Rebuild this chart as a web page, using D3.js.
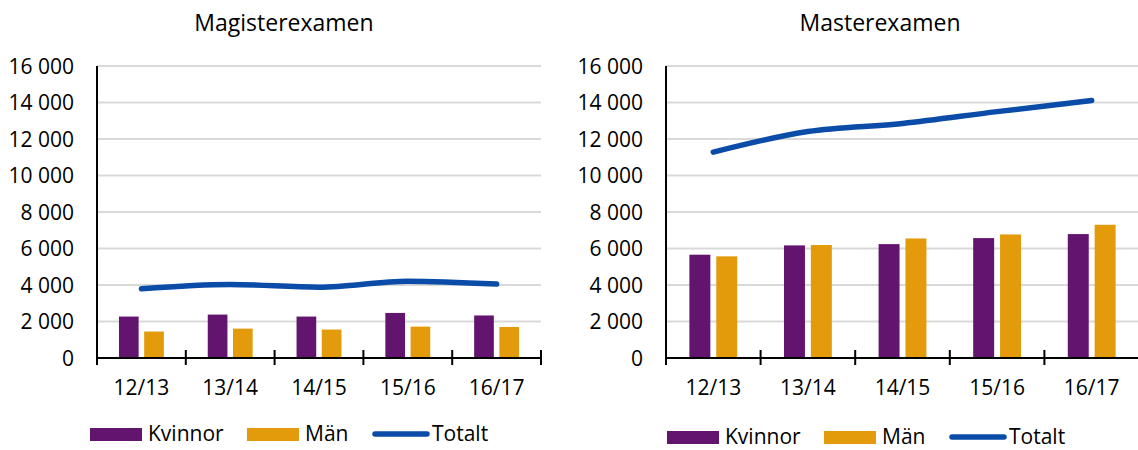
<!DOCTYPE html>
<html>
<head>
<meta charset="utf-8">
<script src="https://cdn.jsdelivr.net/npm/d3@7"></script>
<style>
  body { margin: 0; background: #fff; }
  svg { display: block; font-family: "Open Sans", sans-serif; }
</style>
</head>
<body>
<script>
var years = ["12/13", "13/14", "14/15", "15/16", "16/17"];
var series = ["Kvinnor", "Män"];
var yTicks = [0, 2000, 4000, 6000, 8000, 10000, 12000, 14000, 16000];

var magKvinnor = [2270, 2380, 2270, 2470, 2330];
var magMan = [1450, 1610, 1560, 1720, 1700];
var magTotalt = [3790, 4030, 3880, 4210, 4050];

var masKvinnor = [5660, 6170, 6240, 6570, 6790];
var masMan = [5570, 6190, 6550, 6770, 7300];
var masTotalt = [11280, 12410, 12850, 13500, 14110];

var width = 1138;
var height = 450;

var color = d3.scaleOrdinal()
    .domain(["Kvinnor", "Män", "Totalt"])
    .range(["#63146E", "#E39B0C", "#0A4CA7"]);

var locale = d3.formatLocale({decimal: ",", thousands: "\u00a0", grouping: [3], currency: ["", " kr"]});
var format = locale.format(",d");

var svg = d3.select("body").append("svg")
    .attr("width", width)
    .attr("height", height);

chart({
  title: "Magisterexamen", titleX: 284,
  x0: 97, x1: 541, legendX: 90, legendY: 428,
  k: magKvinnor, m: magMan, t: magTotalt
});
chart({
  title: "Masterexamen", titleX: 880,
  x0: 666, x1: 1139, legendX: 667, legendY: 431,
  k: masKvinnor, m: masMan, t: masTotalt
});

function chart(c) {

  var g = svg.append("g");

  var x = d3.scaleBand()
      .domain(years)
      .range([c.x0, c.x1])
      .padding(0);

  var sub = d3.scaleBand()
      .domain(series)
      .range([0, x.bandwidth()])
      .paddingInner(0.22)
      .paddingOuter(0.87);

  var y = d3.scaleLinear()
      .domain([0, 16000])
      .range([358, 66]);

  // gridlines
  g.append("g")
    .selectAll("line")
    .data(yTicks.slice(1))
    .join("line")
      .attr("x1", c.x0)
      .attr("x2", c.x1)
      .attr("y1", d => y(d))
      .attr("y2", d => y(d))
      .attr("stroke", "#D9D9D9")
      .attr("stroke-width", 2);

  // y labels
  g.append("g")
    .selectAll("text")
    .data(yTicks)
    .join("text")
      .attr("x", c.x0 - 23)
      .attr("y", d => y(d))
      .attr("dy", "0.36em")
      .attr("text-anchor", "end")
      .style("font-size", "21px")
      .attr("fill", "#000")
      .text(d => format(d));

  var rows = years.map((yr, i) => ({year: yr, Kvinnor: c.k[i], "Män": c.m[i], Totalt: c.t[i]}));

  // bars
  g.append("g")
    .selectAll("g")
    .data(rows)
    .join("g")
      .attr("transform", d => `translate(${x(d.year)},0)`)
    .selectAll("rect")
    .data(d => series.map(s => ({key: s, value: d[s]})))
    .join("rect")
      .attr("x", d => sub(d.key))
      .attr("width", sub.bandwidth())
      .attr("y", d => y(d.value))
      .attr("height", d => y(0) - y(d.value))
      .attr("fill", d => color(d.key));

  // axes
  g.append("line")
      .attr("x1", c.x0).attr("x2", c.x0)
      .attr("y1", y(16000)).attr("y2", y(0) + 7)
      .attr("stroke", "#000").attr("stroke-width", 2);

  g.append("line")
      .attr("x1", c.x0).attr("x2", c.x1)
      .attr("y1", y(0)).attr("y2", y(0))
      .attr("stroke", "#000").attr("stroke-width", 2);

  g.append("g")
    .selectAll("line")
    .data(years.map(d => x(d) + x.bandwidth()).concat([c.x0]))
    .join("line")
      .attr("x1", d => d).attr("x2", d => d)
      .attr("y1", y(0) - 8).attr("y2", y(0) + 7)
      .attr("stroke", "#000").attr("stroke-width", 2);

  g.append("g")
    .selectAll("text")
    .data(years)
    .join("text")
      .attr("x", d => x(d) + x.bandwidth() / 2)
      .attr("y", 395)
      .attr("text-anchor", "middle")
      .style("font-size", "21px")
      .attr("fill", "#000")
      .text(d => d);

  // total line
  var line = d3.line()
      .x(d => x(d.year) + x.bandwidth() / 2)
      .y(d => y(d.Totalt))
      .curve(d3.curveMonotoneX);

  g.append("path")
      .datum(rows)
      .attr("d", line)
      .attr("fill", "none")
      .attr("stroke", color("Totalt"))
      .attr("stroke-width", 5.5)
      .attr("stroke-linecap", "round")
      .attr("stroke-linejoin", "round");

  // title
  g.append("text")
      .attr("x", c.titleX)
      .attr("y", 31)
      .attr("text-anchor", "middle")
      .style("font-size", "23px")
      .attr("fill", "#000")
      .text(c.title);

  // legend
  var lg = g.append("g")
      .attr("transform", `translate(${c.legendX},${c.legendY})`);

  lg.selectAll("rect")
    .data(series)
    .join("rect")
      .attr("x", (d, i) => i * 157)
      .attr("y", 0)
      .attr("width", 52)
      .attr("height", 13)
      .attr("fill", d => color(d));

  lg.append("line")
      .attr("x1", 285).attr("x2", 337)
      .attr("y1", 6).attr("y2", 6)
      .attr("stroke", color("Totalt"))
      .attr("stroke-width", 5.5)
      .attr("stroke-linecap", "round");

  lg.selectAll("text")
    .data(series.concat(["Totalt"]))
    .join("text")
      .attr("x", (d, i) => [58, 215, 342][i])
      .attr("y", 13)
      .style("font-size", "21px")
      .attr("fill", "#000")
      .text(d => d);
}
</script>
</body>
</html>
